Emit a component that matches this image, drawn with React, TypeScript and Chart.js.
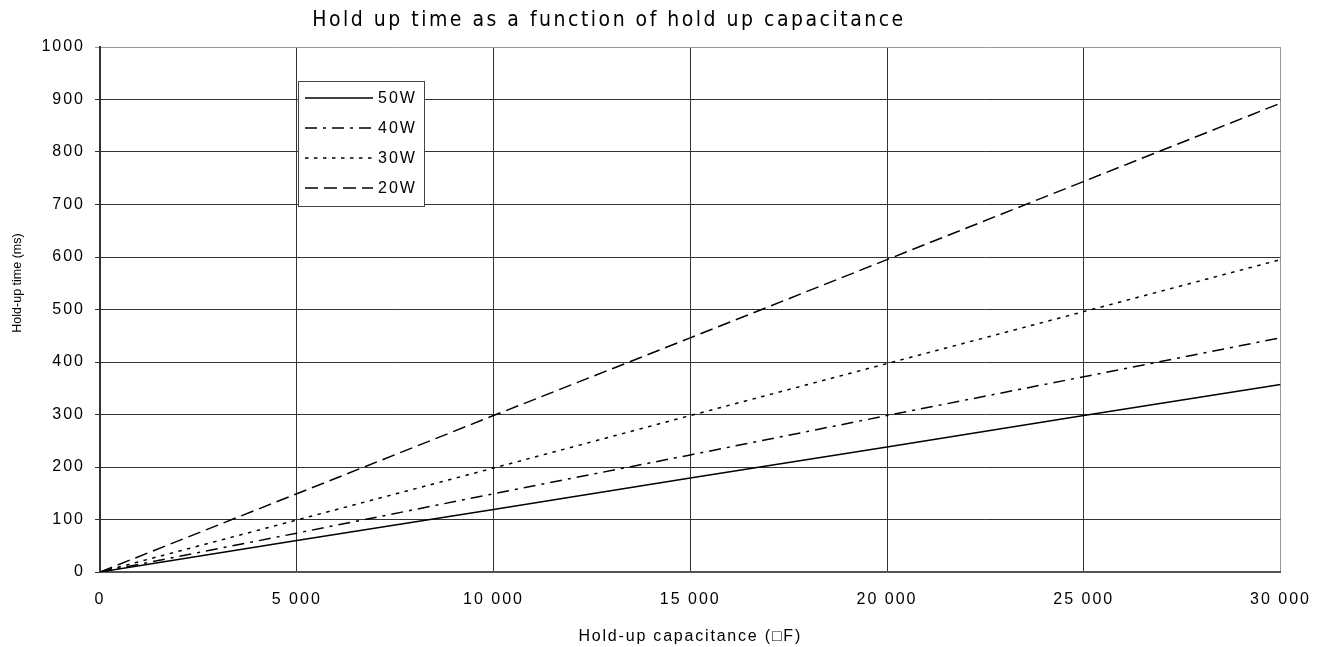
import React, { useEffect, useRef } from 'react';
import { Chart, registerables } from 'chart.js';

Chart.register(...registerables);

// ---- data ----
const capacitance = [0, 5000, 10000, 15000, 20000, 25000, 30000];
const holdUp50W = [0, 60, 119, 179, 238, 298, 357];
const holdUp40W = [0, 74, 149, 223, 298, 372, 446];
const holdUp30W = [0, 99, 198, 298, 397, 496, 595];
const holdUp20W = [0, 149, 298, 446, 595, 744, 893];
const seriesNames = ['50W', '40W', '30W', '20W'];

const xMin = 0;
const xMax = 30000;
const xStep = 5000;
const yMin = 0;
const yMax = 1000;
const yStep = 100;

const chartTitle = 'Hold up time as a function of hold up capacitance';
const xAxisTitle = 'Hold-up capacitance (\u25A1F)';
const yAxisTitle = 'Hold-up time (ms)';

const dashes: number[][] = [[], [12, 6, 3, 6], [3.5, 5.5], [13, 6]];

const fmtX = (v: number) => String(v).replace(/\B(?=(\d{3})+(?!\d))/g, ' ');
const fmtY = (v: number) => String(v);

const SANS = '"Liberation Sans", Arial, sans-serif';
const TICK_LS = '2px';

const decorPlugin = {
  id: 'decor',
  beforeUpdate(chart: any) {
    chart.ctx.letterSpacing = TICK_LS;
  },
  beforeDraw(chart: any) {
    const ctx = chart.ctx;
    ctx.save();
    ctx.fillStyle = '#fff';
    ctx.fillRect(0, 0, chart.width, chart.height);
    ctx.restore();
    ctx.letterSpacing = TICK_LS;
  },
  afterDraw(chart: any) {
    const ctx = chart.ctx;
    const area = chart.chartArea;
    ctx.save();
    // chart title
    ctx.letterSpacing = '2.5px';
    ctx.fillStyle = '#000';
    ctx.font = '21px "DejaVu Sans Condensed", "Liberation Sans Narrow", "DejaVu Sans", sans-serif';
    ctx.textAlign = 'center';
    ctx.textBaseline = 'middle';
    ctx.fillText(chartTitle, 609, 21);

    // x-axis title
    ctx.letterSpacing = '1.8px';
    ctx.font = '16px ' + SANS;
    ctx.fillText(xAxisTitle, (area.left + area.right) / 2, 637);

    // y-axis title
    ctx.letterSpacing = '0px';
    ctx.font = '12.5px ' + SANS;
    ctx.save();
    ctx.translate(18, 283);
    ctx.rotate(-Math.PI / 2);
    ctx.fillText(yAxisTitle, 0, 0);
    ctx.restore();

    // legend box
    const bx = 298, by = 81, bw = 126, bh = 125;
    ctx.fillStyle = '#fff';
    ctx.fillRect(bx, by, bw, bh);
    ctx.strokeStyle = '#444';
    ctx.lineWidth = 1;
    ctx.strokeRect(bx + 0.5, by + 0.5, bw, bh);
    ctx.letterSpacing = '2px';
    ctx.font = '16px ' + SANS;
    ctx.textAlign = 'left';
    chart.data.datasets.forEach((ds: any, i: number) => {
      const y = 98 + i * 30;
      ctx.save();
      ctx.strokeStyle = '#000';
      ctx.lineWidth = 1.6;
      ctx.setLineDash(ds.borderDash || []);
      ctx.beginPath();
      ctx.moveTo(305, y);
      ctx.lineTo(373, y);
      ctx.stroke();
      ctx.restore();
      ctx.fillStyle = '#000';
      ctx.fillText(ds.label, 378, y + 1);
    });
    ctx.restore();
    ctx.letterSpacing = TICK_LS;
  },
};

export default function App() {
  const ref = useRef<HTMLCanvasElement>(null);

  useEffect(() => {
    document.body.style.margin = '0';
    const canvas = ref.current!;
    const series = [holdUp50W, holdUp40W, holdUp30W, holdUp20W];
    const chart = new Chart(canvas, {
      type: 'line',
      data: {
        datasets: series.map((vals, i) => ({
          label: seriesNames[i],
          data: capacitance.map((c, j) => ({ x: c, y: vals[j] })),
          borderColor: '#000',
          borderWidth: 1.5,
          borderDash: dashes[i],
          pointRadius: 0,
          fill: false,
          tension: 0,
        })),
      },
      options: {
        responsive: false,
        animation: false,
        devicePixelRatio: 1,
        layout: { padding: { top: 47, right: 39, left: 0, bottom: 0 } },
        plugins: {
          legend: { display: false },
          title: { display: false },
          tooltip: { enabled: false },
        },
        scales: {
          x: {
            type: 'linear',
            min: xMin,
            max: xMax,
            ticks: {
              stepSize: xStep,
              padding: 18,
              color: '#000',
              maxRotation: 0,
              autoSkip: false,
              font: { family: SANS, size: 16 },
              callback: (v: any) => fmtX(Number(v)),
            },
            grid: {
              color: (c: any) => (c.tick && c.tick.value === xMax ? '#999' : '#333'),
              lineWidth: 1,
              drawTicks: false,
            },
            border: { color: '#555', width: 2 },
            afterFit: (s: any) => {
              s.height = 75;
            },
          },
          y: {
            min: yMin,
            max: yMax,
            ticks: {
              stepSize: yStep,
              padding: 10,
              color: '#000',
              font: { family: SANS, size: 16 },
              callback: (v: any) => fmtY(Number(v)),
            },
            grid: {
              color: (c: any) => (c.tick && c.tick.value === yMax ? '#999' : '#333'),
              lineWidth: 1,
              drawTicks: true,
              tickLength: 5,
            },
            border: { color: '#333', width: 2 },
            afterFit: (s: any) => {
              s.width = 100;
            },
          },
        },
      },
      plugins: [decorPlugin],
    });
    return () => chart.destroy();
  }, []);

  return (
    <div style={{ width: 1329, height: 647 }}>
      <canvas ref={ref} width={1329} height={647} style={{ display: 'block' }} />
    </div>
  );
}
